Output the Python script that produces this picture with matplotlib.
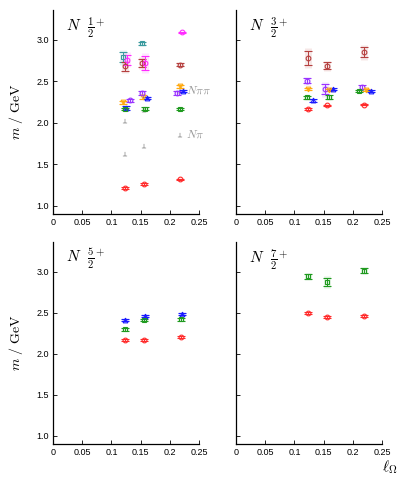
import matplotlib
matplotlib.use("Agg")
import matplotlib.pyplot as plt

plt.rcParams['mathtext.fontset'] = 'cm'
plt.rcParams['font.family'] = ['Liberation Sans', 'DejaVu Sans']

# lattice spacings (x positions, with small per-series offsets already applied)
x_base = [0.124, 0.155, 0.218]

# ---------------- N 1/2+ ----------------
h_red_x = [0.123, 0.155, 0.218];   h_red_m = [1.213, 1.26, 1.32];   h_red_e = [0.008, 0.008, 0.008]
h_teal_x = [0.120, 0.152];         h_teal_m = [2.79, 2.96];         h_teal_e = [0.06, 0.02]
h_dred_x = [0.124, 0.153, 0.218];  h_dred_m = [2.68, 2.72, 2.70];   h_dred_e = [0.05, 0.05, 0.02]
h_mag_x = [0.127, 0.158, 0.221];   h_mag_m = [2.76, 2.72, 3.09];    h_mag_e = [0.06, 0.08, 0.01]
h_org_x = [0.120, 0.154, 0.218];   h_org_m = [2.245, 2.31, 2.44];   h_org_e = [0.02, 0.02, 0.02]
h_pur_x = [0.131, 0.152, 0.212];   h_pur_m = [2.27, 2.36, 2.36];    h_pur_e = [0.02, 0.02, 0.02]
h_blu_x = [0.125, 0.161, 0.222];   h_blu_m = [2.18, 2.30, 2.385];   h_blu_e = [0.02, 0.015, 0.015]
h_grn_x = [0.124, 0.158, 0.218];   h_grn_m = [2.165, 2.17, 2.17];   h_grn_e = [0.015, 0.015, 0.012]
npi_m = [1.627, 1.723, 1.855]
npipi_m = [2.016, 2.157, 2.386]

# ---------------- N 3/2+ ----------------
t_dred_x = [0.124, 0.155, 0.219];  t_dred_m = [2.78, 2.69, 2.85];   t_dred_e = [0.08, 0.04, 0.06]
t_pur_x = [0.122, 0.152, 0.215];   t_pur_m = [2.506, 2.406, 2.43];  t_pur_e = [0.03, 0.06, 0.02]
t_org_x = [0.124, 0.160, 0.222];   t_org_m = [2.406, 2.40, 2.40];   t_org_e = [0.012, 0.012, 0.012]
t_grn_x = [0.121, 0.159, 0.211];   t_grn_m = [2.305, 2.31, 2.386];  t_grn_e = [0.02, 0.02, 0.012]
t_blu_x = [0.131, 0.166, 0.231];   t_blu_m = [2.27, 2.406, 2.38];   t_blu_e = [0.015, 0.012, 0.012]
t_red_x = [0.124, 0.155, 0.219];   t_red_m = [2.17, 2.21, 2.22];    t_red_e = [0.012, 0.01, 0.01]

# ---------------- N 5/2+ ----------------
f_blu_x = [0.124, 0.158, 0.221];   f_blu_m = [2.41, 2.457, 2.48];   f_blu_e = [0.015, 0.015, 0.015]
f_grn_x = [0.124, 0.155, 0.219];   f_grn_m = [2.297, 2.41, 2.417];  f_grn_e = [0.015, 0.015, 0.015]
f_red_x = [0.124, 0.155, 0.220];   f_red_m = [2.165, 2.17, 2.206];  f_red_e = [0.01, 0.01, 0.01]

# ---------------- N 7/2+ ----------------
s_grn_x = [0.124, 0.155, 0.219];   s_grn_m = [2.94, 2.87, 3.01];    s_grn_e = [0.03, 0.05, 0.03]
s_red_x = [0.124, 0.155, 0.219];   s_red_m = [2.49, 2.45, 2.46];    s_red_e = [0.012, 0.012, 0.012]

x_ticks = [0, 0.05, 0.1, 0.15, 0.2, 0.25]
x_ticklabels = ["0", "0.05", "0.1", "0.15", "0.2", "0.25"]
y_ticks = [1.0, 1.5, 2.0, 2.5, 3.0]
y_ticklabels = ["1.0", "1.5", "2.0", "2.5", "3.0"]

C_RED = '#ff2a2a'
C_DRED = '#b5403f'
C_TEAL = '#3a9a9e'
C_MAG = '#ff2bff'
C_ORG = '#ffaa11'
C_PUR = '#9a33ff'
C_BLU = '#1a1aff'
C_GRN = '#1f9a1f'
C_GRY = '#999999'

fig = plt.figure(figsize=(4.15, 4.79), dpi=100)
L1, W = 53/415, 146/415
L2 = 236/415
ax_tl = fig.add_axes([L1, 1-214/479, W, 204/479])
ax_tr = fig.add_axes([L2, 1-214/479, W, 204/479])
ax_bl = fig.add_axes([L1, 1-444/479, W, 202/479])
ax_br = fig.add_axes([L2, 1-444/479, W, 202/479])


def series(ax, x, m, e, color, marker):
    ax.errorbar(x, m, yerr=[v*1.5 for v in e], fmt='none', ecolor=color,
                elinewidth=5, alpha=0.12, capsize=0, zorder=2)
    ax.errorbar(x, m, yerr=e, fmt=marker, color=color, mfc='none', mec=color,
                ms=3.4, mew=0.8, elinewidth=0.7, capsize=2.6, capthick=0.7, zorder=3)


def style(ax, left_labels, title):
    ax.set_xlim(0, 0.25)
    ax.set_ylim(0.9, 3.36)
    for s in ['top', 'right']:
        ax.spines[s].set_visible(False)
    ax.spines['left'].set_linewidth(0.9)
    ax.spines['bottom'].set_linewidth(0.9)
    ax.set_xticks(x_ticks)
    ax.set_xticklabels(x_ticklabels)
    ax.set_yticks(y_ticks)
    if left_labels:
        ax.set_yticklabels(y_ticklabels)
        ax.set_ylabel(r'$m\ /\ \mathrm{GeV}$', fontsize=10, labelpad=8)
    else:
        ax.set_yticklabels([])
    ax.tick_params(direction='in', length=3, width=0.6, labelsize=6.5, pad=3)
    ax.text(0.09, 0.975, title, transform=ax.transAxes, fontsize=11,
            ha='left', va='top')


# N 1/2+
ax = ax_tl
series(ax, h_red_x, h_red_m, h_red_e, C_RED, 'o')
series(ax, h_teal_x, h_teal_m, h_teal_e, C_TEAL, 's')
series(ax, h_dred_x, h_dred_m, h_dred_e, C_DRED, 'o')
series(ax, h_mag_x, h_mag_m, h_mag_e, C_MAG, 'o')
series(ax, h_org_x, h_org_m, h_org_e, C_ORG, 'v')
series(ax, h_pur_x, h_pur_m, h_pur_e, C_PUR, 'o')
series(ax, h_blu_x, h_blu_m, h_blu_e, C_BLU, '^')
series(ax, h_grn_x, h_grn_m, h_grn_e, C_GRN, 's')
ax.plot(x_base, npi_m, ls='none', marker=r'$\perp$', color=C_GRY, ms=3.5, mew=0.3, zorder=2)
ax.plot(x_base, npipi_m, ls='none', marker=r'$\perp$', color=C_GRY, ms=3.5, mew=0.3, zorder=2)
ax.text(x_base[2] + 0.009, npipi_m[2], r'$N\pi\pi$', color=C_GRY, fontsize=8.5, va='center')
ax.text(x_base[2] + 0.009, npi_m[2], r'$N\pi$', color=C_GRY, fontsize=8.5, va='center')
style(ax, True, r'$N\ \ \frac{1}{2}^{+}$')

# N 3/2+
ax = ax_tr
series(ax, t_dred_x, t_dred_m, t_dred_e, C_DRED, 'o')
series(ax, t_pur_x, t_pur_m, t_pur_e, C_PUR, 'o')
series(ax, t_org_x, t_org_m, t_org_e, C_ORG, 'v')
series(ax, t_grn_x, t_grn_m, t_grn_e, C_GRN, 's')
series(ax, t_blu_x, t_blu_m, t_blu_e, C_BLU, '^')
series(ax, t_red_x, t_red_m, t_red_e, C_RED, 'o')
style(ax, False, r'$N\ \ \frac{3}{2}^{+}$')

# N 5/2+
ax = ax_bl
series(ax, f_blu_x, f_blu_m, f_blu_e, C_BLU, '^')
series(ax, f_grn_x, f_grn_m, f_grn_e, C_GRN, 's')
series(ax, f_red_x, f_red_m, f_red_e, C_RED, 'o')
style(ax, True, r'$N\ \ \frac{5}{2}^{+}$')

# N 7/2+
ax = ax_br
series(ax, s_grn_x, s_grn_m, s_grn_e, C_GRN, 's')
series(ax, s_red_x, s_red_m, s_red_e, C_RED, 'o')
style(ax, False, r'$N\ \ \frac{7}{2}^{+}$')
ax.text(1.0, -0.07, r'$\ell_{\Omega}$', transform=ax.transAxes, fontsize=11,
        ha='left', va='top')

fig.savefig('out.png', dpi=100)
